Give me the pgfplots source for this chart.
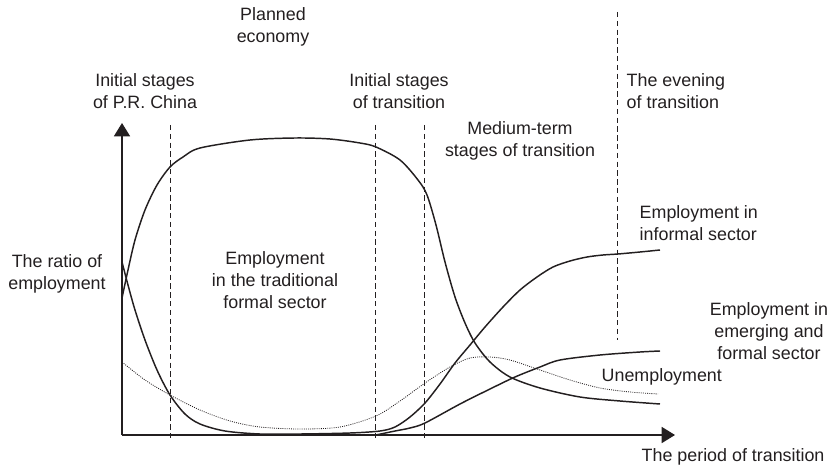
\documentclass[border=0pt]{standalone}
\usepackage{pgfplots}
\pgfplotsset{compat=1.18}
\usepackage{fontspec}
\setmainfont{Liberation Sans}
\usetikzlibrary{arrows.meta}
\definecolor{ink}{HTML}{231F20}

\begin{document}
\begin{tikzpicture}[font=\fontsize{13.4}{16.3}\selectfont, text=ink]
\begin{axis}[
	hide axis, scale only axis, clip=false,
	width=625.5pt, height=352.5pt,
	xmin=0, xmax=834, ymin=0, ymax=470, y dir=reverse,
	curve/.style={ink, line width=1.1pt, no markers, smooth, tension=0.5},
	stage/.style={ink, line width=0.7pt, no markers, dash pattern=on 4pt off 2.6pt, sharp plot},
	]
\coordinate (bl) at (axis cs:0,470);
\coordinate (tr) at (axis cs:834,0);

% axes
\draw[ink, line width=1.3pt, -{Triangle[length=10pt,width=12pt]}] (axis cs:122,435) -- (axis cs:122,123);
\draw[ink, line width=1.3pt, -{Triangle[length=10pt,width=12pt]}] (axis cs:122,435) -- (axis cs:675,435);

% stage boundaries
\addplot[stage] coordinates {(170,125) (170,440)};
\addplot[stage] coordinates {(375,125) (375,440)};
\addplot[stage] coordinates {(424,125) (424,440)};
\addplot[stage] coordinates {(617,12) (617,340)};

% employment in the traditional formal sector
\addplot[curve] coordinates {
	(122,298) (128,270) (135,240) (145,210) (157,185) (170,167) (183,157)
	(200,148) (250,140) (295,138) (330,139) (360,143) (376,147) (400,160)
	(418,180) (427,195) (436,225) (445,262) (455,297) (465,323) (475,343)
	(490,362) (510,377) (540,388) (580,397) (620,401) (660,404)};

% employment in informal sector
\addplot[curve] coordinates {
	(122,262) (128,285) (135,310) (145,340) (157,370) (170,395) (185,414)
	(200,424) (225,431) (260,434) (300,434) (350,433) (380,431) (395,427)
	(410,417) (425,403) (440,384) (455,363) (470,345) (485,327) (503,307)
	(520,290) (537,277) (553,267) (570,261) (587,257) (603,255) (618,254)
	(640,252) (660,250)};

% employment in emerging and formal sector
\addplot[curve] coordinates {
	(376,435) (395,431) (410,428) (425,423) (460,404) (490,389) (515,377)
	(540,367) (560,360) (600,355) (640,352) (660,351)};

% unemployment
\addplot[curve, line width=0.6pt, dash pattern=on 0.7pt off 0.9pt] coordinates {
	(122,362) (145,380) (170,395) (200,410) (230,421) (260,427) (300,429)
	(340,427) (376,416) (400,401) (425,383) (450,367) (470,358) (490,357)
	(510,360) (540,370) (570,380) (600,388) (630,392) (658,394)};

% texts
\node[align=center] at (axis cs:273,27) {Planned\\economy};
\node[align=center] at (axis cs:145,91) {Initial stages\\of P.R. China};
\node[align=center] at (axis cs:399,91) {Initial stages\\of transition};
\node[align=left, anchor=west] at (axis cs:622,91) {The evening\\of transition};
\node[align=center] at (axis cs:520,141) {Medium-term\\stages of transition};
\node[align=center] at (axis cs:57,274) {The ratio of\\employment};
\node[align=center] at (axis cs:275,280) {Employment\\in the traditional\\formal sector};
\node[align=left, anchor=west] at (axis cs:635,223) {Employment in\\informal sector};
\node[align=center] at (axis cs:769,331) {Employment in\\emerging and\\formal sector};
\node[anchor=west] at (axis cs:597,377) {Unemployment};
\node[anchor=west] at (axis cs:637,457) {The period of transition};
\end{axis}
\pgfresetboundingbox
\path (bl) rectangle (tr);
\end{tikzpicture}
\end{document}
